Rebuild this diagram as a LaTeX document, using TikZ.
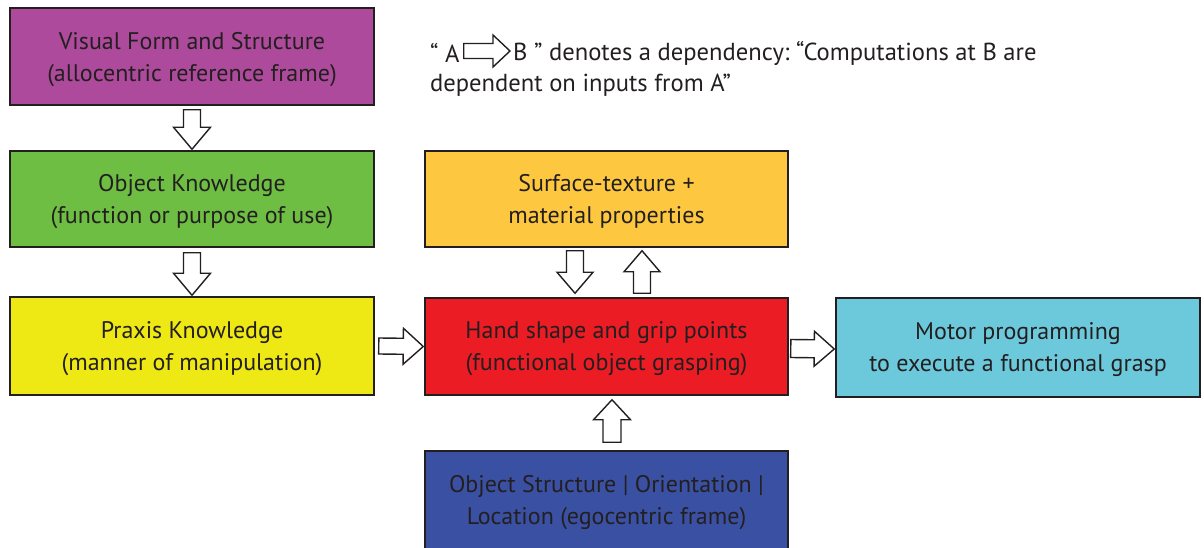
\documentclass[tikz,border=0pt]{standalone}
\usepackage{fontspec}
\setmainfont{PT Sans}
\usetikzlibrary{calc}
\definecolor{txt}{HTML}{231F20}
\definecolor{cpurple}{HTML}{AE4A9B}
\definecolor{cgreen}{HTML}{6EBE44}
\definecolor{cyellow}{HTML}{EEE814}
\definecolor{corange}{HTML}{FDC840}
\definecolor{cred}{HTML}{EC1C24}
\definecolor{ccyan}{HTML}{6CC9DB}
\definecolor{cblue}{HTML}{3A51A3}
\tikzset{
  box/.style={draw=txt, line width=1.5pt, minimum width=364pt, minimum height=97pt,
    align=center, text=txt, font=\fontsize{24}{32}\selectfont, inner sep=0pt, text depth=0pt},
  barrow/.style={draw=txt, fill=white, line width=1.4pt, line join=miter},
  legtext/.style={text=txt, font=\fontsize{24.6}{32}\selectfont, inner sep=0pt, anchor=west}
}
% name, from, to, shaft half width, head half width, head length
\newcommand{\blockarrow}[6]{%
  \coordinate (#1h) at ($(#3)!#6!(#2)$);
  \draw[barrow] ($(#2)!#4!90:(#3)$) -- ($(#1h)!#4!90:(#3)$) -- ($(#1h)!#5!90:(#3)$)
    -- (#3) -- ($(#1h)!#5!-90:(#3)$) -- ($(#1h)!#4!-90:(#3)$) -- ($(#2)!#4!-90:(#3)$) -- cycle;}
\begin{document}
\begin{tikzpicture}[x=1pt,y=-1pt]
\useasboundingbox (0,0) rectangle (1204,548);
\clip (0,0) rectangle (1204,548);
\node[box, fill=cpurple] (vis) at (192,56.5) {Visual Form and Structure\\(allocentric reference frame)};
\node[box, fill=cgreen, minimum height=96pt] (obj) at (192,199) {Object Knowledge\\(function or purpose of use)};
\node[box, fill=cyellow, minimum height=98pt] (prax) at (192,346) {Praxis Knowledge\\(manner of manipulation)};
\node[box, fill=corange, minimum width=363pt, minimum height=96pt] (surf) at (606.5,199) {Surface-texture +\\material properties};
\node[box, fill=cred, minimum width=363pt] (hand) at (606.5,346.5) {Hand shape and grip points\\(functional object grasping)};
\node[box, fill=ccyan, minimum height=99pt] (motor) at (1018,347.5) {Motor programming\\to execute a functional grasp};
\node[box, fill=cblue, minimum width=363pt, minimum height=104pt] (loc) at (606.5,503) {};
\node[text=txt, font=\fontsize{24}{32}\selectfont, align=center, inner sep=0pt, text depth=0pt] (loctext) at (606.5,500) {Object Structure | Orientation |\\Location (egocentric frame)};

% legend
\node[legtext] (legA) at (430,53) {“ A};
\node[legtext] (legB) at (513,53) {B ”\ denotes a dependency:\ “Computations at B are};
\node[legtext] (leg2) at (430,85) {dependent on inputs from A”};
\coordinate (la1) at ($(legA.east)+(4,-2)$);
\coordinate (la2) at ($(legB.west)+(-3,-2)$);
\blockarrow{la}{la1}{la2}{7.5pt}{16pt}{17pt}

% arrows
\coordinate (a1s) at ($(vis.south)+(0,4)$);
\coordinate (a1e) at ($(obj.north)+(0,-1)$);
\blockarrow{a1}{a1s}{a1e}{8.5pt}{18.5pt}{22pt}
\coordinate (a2s) at ($(obj.south)+(0,5)$);
\coordinate (a2e) at ($(prax.north)+(0,-1)$);
\blockarrow{a2}{a2s}{a2e}{8.5pt}{18.5pt}{22pt}
\coordinate (a3s) at ($(prax.east)+(4,0)$);
\coordinate (a3e) at ($(hand.west)+(-1,0)$);
\blockarrow{a3}{a3s}{a3e}{8pt}{18pt}{20pt}
\coordinate (a4s) at ($(surf.south)+(-31.5,3)$);
\coordinate (a4e) at ($(hand.north)+(-31.5,-4)$);
\blockarrow{a4}{a4s}{a4e}{8.5pt}{18pt}{21pt}
\coordinate (a5s) at ($(hand.north)+(35.5,-4)$);
\coordinate (a5e) at ($(surf.south)+(35.5,3)$);
\blockarrow{a5}{a5s}{a5e}{8.5pt}{18pt}{21pt}
\coordinate (a6s) at ($(loc.north)+(5.5,-8)$);
\coordinate (a6e) at ($(hand.south)+(5.5,4)$);
\blockarrow{a6}{a6s}{a6e}{9pt}{18.5pt}{20pt}
\coordinate (a7s) at ($(hand.east)+(2,2)$);
\coordinate (a7e) at ($(motor.west)+(-1,1.5)$);
\blockarrow{a7}{a7s}{a7e}{9pt}{17.5pt}{20pt}
\end{tikzpicture}
\end{document}
